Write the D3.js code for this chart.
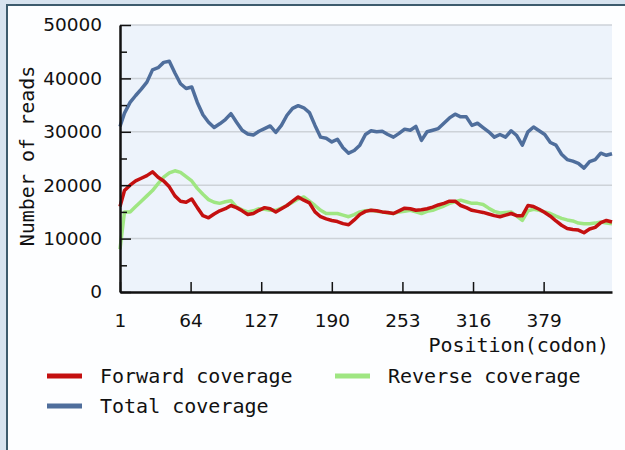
<!DOCTYPE html>
<html>
<head>
<meta charset="utf-8">
<script src="https://cdn.jsdelivr.net/npm/d3@7"></script>
<style>
  html, body { margin: 0; padding: 0; background: #d7e3ef; }
  svg { display: block; }
</style>
</head>
<body>
<svg id="chart" width="625" height="450"></svg>
<script>
// Codon positions sampled along the gene
const positions = [1,5,10,15,20,25,30,35,40,45,50,55,60,65,70,75,80,85,90,95,100,105,110,115,120,125,130,135,140,145,150,155,160,165,170,175,180,185,190,195,200,205,210,215,220,225,230,235,240,245,250,255,260,265,270,275,280,285,290,295,300,305,310,315,320,325,330,335,340,345,350,355,360,365,370,375,380,385,390,395,400,405,410,415,420,425,430,435,440];

// Read depth per strand and combined
const forwardCoverage = [16000,19000,20000,20800,21300,21800,22500,21500,20800,19700,18000,17000,16800,17400,15800,14300,13900,14600,15200,15600,16200,15800,15200,14500,14700,15300,15800,15600,15000,15600,16200,17000,17800,17200,16700,15000,14100,13700,13400,13200,12800,12600,13500,14500,15100,15300,15200,15000,14900,14700,15200,15700,15600,15300,15400,15600,15900,16300,16600,17000,17000,16200,15800,15300,15100,14900,14600,14300,14100,14400,14700,14300,14300,16200,16000,15500,14900,14200,13300,12500,11900,11700,11600,11100,11800,12100,13000,13400,13100];
const reverseCoverage = [8000,15000,15000,16000,17000,18000,19000,20300,21500,22300,22700,22400,21600,20800,19400,18300,17300,16800,16600,16900,17100,15900,15400,15000,15200,15600,15500,15300,15300,15700,16200,16800,17400,17800,17000,16200,15300,14700,14700,14700,14400,14100,14500,15000,15200,15300,15100,15000,14800,14700,15000,15100,15300,15000,14700,15100,15300,15700,16100,16600,16900,17200,16900,16600,16600,16400,15700,15100,14800,14900,15000,14200,13400,15200,15500,15300,15000,14700,14200,13800,13500,13300,12900,12800,12800,12900,13100,12900,12800];
const totalCoverage = [31000,33500,35500,36800,38000,39300,41600,42000,43000,43200,41000,39000,38100,38400,35500,33200,31800,30800,31500,32300,33400,31800,30300,29600,29400,30100,30600,31100,29900,31200,33100,34400,34900,34500,33600,31200,29000,28800,28100,28600,27000,26000,26500,27500,29500,30200,30000,30100,29500,29000,29700,30500,30300,31000,28400,30000,30300,30600,31600,32600,33300,32800,32800,31200,31600,30800,30000,29000,29500,29000,30200,29300,27500,30000,30900,30200,29500,28000,27500,25800,24800,24500,24100,23200,24400,24800,26000,25600,25900];

const xTickValues = [1,64,127,190,253,316,379];
const yTickValues = [0,10000,20000,30000,40000,50000];
const yMinorTicks = [5000,15000,25000,35000,45000];

const seriesNames = ["Forward coverage","Reverse coverage","Total coverage"];
const seriesColors = ["#c41010","#9fe682","#4f6e9c"];

const svg = d3.select("#chart");
const W = 625, H = 450;

// Outer frame and inner panel
svg.append("rect").attr("x",0).attr("y",0).attr("width",W).attr("height",H).attr("fill","#d7e3ef");
svg.append("rect").attr("x",8).attr("y",6).attr("width",W-8).attr("height",H-6).attr("fill","#fdfeff");
svg.append("line").attr("x1",7).attr("x2",7).attr("y1",5).attr("y2",H).attr("stroke","#3d5b6d").attr("stroke-width",2);
svg.append("line").attr("x1",6).attr("x2",W).attr("y1",5).attr("y2",5).attr("stroke","#3d5b6d").attr("stroke-width",2);

const plot = {left:120, right:612, top:25, bottom:292};

const x = d3.scaleLinear().domain([1,440]).range([plot.left, plot.right]);
const y = d3.scaleLinear().domain([0,50000]).range([plot.bottom, plot.top]);

// Plot background
svg.append("rect").attr("x",plot.left).attr("y",plot.top)
  .attr("width",plot.right-plot.left).attr("height",plot.bottom-plot.top)
  .attr("fill","#edf3fb");

// Horizontal gridlines
svg.append("g").selectAll("line").data(yTickValues.filter(d=>d>0)).join("line")
  .attr("x1",plot.left).attr("x2",plot.right)
  .attr("y1",d=>y(d)).attr("y2",d=>y(d))
  .attr("stroke","#cdd2d8").attr("stroke-width",1.5);

// Series lines: reverse first, forward over it, total on top
const series = [forwardCoverage, reverseCoverage, totalCoverage];
const line = d3.line().x((d,i)=>x(positions[i])).y(d=>y(d));
const lineG = svg.append("g");
[1,0,2].forEach(k=>{
  lineG.append("path").datum(series[k])
    .attr("d",line)
    .attr("fill","none")
    .attr("stroke",seriesColors[k])
    .attr("stroke-width",3.5)
    .attr("stroke-linejoin","round");
});

// Y axis: major ticks with labels, minor ticks inward
const yAxis = d3.axisLeft(y).tickValues(yTickValues).tickSizeInner(-11).tickSizeOuter(0).tickPadding(18).tickFormat(d3.format("d"));
const yg = svg.append("g").attr("transform",`translate(${plot.left},0)`).call(yAxis);
yg.select(".domain").attr("stroke","#111").attr("stroke-width",2.5);
yg.selectAll(".tick line").attr("stroke","#111").attr("stroke-width",1.5);
yg.selectAll(".tick text").attr("font-family","'DejaVu Sans', Verdana, sans-serif").attr("font-size",18.5).attr("fill","#111");

const yMinor = d3.axisLeft(y).tickValues(yMinorTicks).tickSizeInner(-7).tickSizeOuter(0).tickFormat("");
const ymg = svg.append("g").attr("transform",`translate(${plot.left},0)`).call(yMinor);
ymg.select(".domain").remove();
ymg.selectAll(".tick line").attr("stroke","#111").attr("stroke-width",1.5);

// X axis with upward ticks
const xAxis = d3.axisBottom(x).tickValues(xTickValues).tickSizeInner(-10).tickSizeOuter(0).tickPadding(22).tickFormat(d3.format("d"));
const xg = svg.append("g").attr("transform",`translate(0,${plot.bottom})`).call(xAxis);
xg.select(".domain").attr("stroke","#111").attr("stroke-width",2.5);
xg.selectAll(".tick line").attr("stroke","#111").attr("stroke-width",1.5);
xg.selectAll(".tick text").attr("font-family","'DejaVu Sans', Verdana, sans-serif").attr("font-size",18.5).attr("fill","#111");

// Axis titles
const mono = "'DejaVu Sans Mono', 'Liberation Mono', monospace";
svg.append("text").attr("x",609).attr("y",352).attr("text-anchor","end")
  .attr("font-family",mono).attr("font-size",20).attr("fill","#111")
  .text("Position(codon)");
svg.append("text").attr("transform","translate(34,156) rotate(-90)").attr("text-anchor","middle")
  .attr("font-family",mono).attr("font-size",20).attr("fill","#111")
  .text("Number of reads");

// Legend
const legendPos = [{x:47,y:376},{x:335,y:376},{x:47,y:406}];
const lg = svg.append("g");
seriesNames.forEach((name,k)=>{
  const p = legendPos[k];
  lg.append("line").attr("x1",p.x).attr("x2",p.x+35).attr("y1",p.y).attr("y2",p.y)
    .attr("stroke",seriesColors[k]).attr("stroke-width",5);
  lg.append("text").attr("x",p.x+53).attr("y",p.y+7)
    .attr("font-family",mono).attr("font-size",20).attr("fill","#111")
    .text(name);
});
</script>
</body>
</html>
